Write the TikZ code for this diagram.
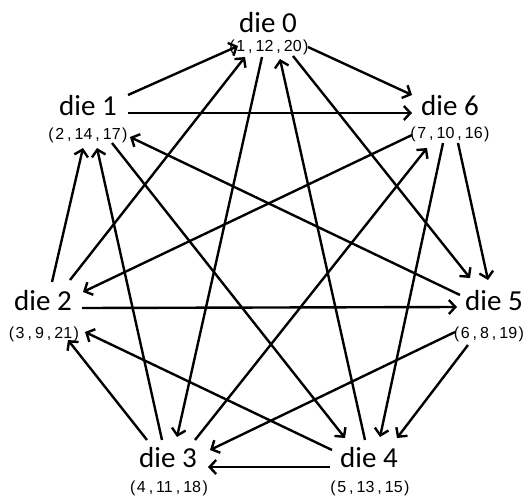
\documentclass[tikz,border=0pt]{standalone}
\usepackage{fontspec}
\setmainfont{Carlito}
\newfontfamily\tupfont{Liberation Sans}
\usetikzlibrary{arrows.meta}
\newcommand{\tupl}[3]{{\tupfont\fontsize{16}{17}\selectfont(\kern1.5pt#1\kern3pt,\kern3pt#2\kern3pt,\kern3pt#3\kern1.5pt)}}
\begin{document}
\begin{tikzpicture}[x=1pt,y=-1pt,
  dielab/.style={anchor=base,inner sep=0pt,font=\fontsize{29}{30}\selectfont},
  tuplab/.style={anchor=center,inner sep=0pt},
  arr/.style={line width=2.4pt,-{Straight Barb[length=6.5pt,width=14pt]}}]
\useasboundingbox[fill=white] (0,0) rectangle (525,498);
% die labels
\node[dielab] (d0) at (268,32) {die 0};
\node[dielab] (d1) at (88,115) {die 1};
\node[dielab] (d6) at (450,115) {die 6};
\node[dielab] (d2) at (43,310) {die 2};
\node[dielab] (d5) at (494,310) {die 5};
\node[dielab] (d3) at (168,467) {die 3};
\node[dielab] (d4) at (369,467) {die 4};
% tuples
\node[tuplab] (t0) at (269,47) {\tupl{1}{12}{20}};
\node[tuplab] (t1) at (88,135) {\tupl{2}{14}{17}};
\node[tuplab] (t6) at (450,134) {\tupl{7}{10}{16}};
\node[tuplab] (t2) at (44,334) {\tupl{3}{9}{21}};
\node[tuplab] (t5) at (489,334) {\tupl{6}{8}{19}};
\node[tuplab] (t3) at (169,488) {\tupl{4}{11}{18}};
\node[tuplab] (t4) at (370,488) {\tupl{5}{13}{15}};
% edges
\draw[arr] ([shift={(40,-20)}]d1.base) -- ([shift={(-30,14)}]d0.base);
\draw[arr] ([shift={(40,15)}]d0.base) -- ([shift={(-38,-20)}]d6.base);
\draw[arr] ([shift={(27,-30)}]d2.base) -- ([shift={(-23,25)}]d0.base);
\draw[arr] ([shift={(-6,25)}]d0.base) -- ([shift={(9,-30)}]d3.base);
\draw[arr] ([shift={(-4,-27)}]d4.base) -- ([shift={(12,27)}]d0.base);
\draw[arr] ([shift={(25,24)}]d0.base) -- ([shift={(-24,-32)}]d5.base);
\draw[arr] ([shift={(40,-2)}]d1.base) -- ([shift={(-38,-2)}]d6.base);
\draw[arr] ([shift={(-38,20)}]d6.base) -- ([shift={(40,-18)}]d2.base);
\draw[arr] ([shift={(27,-27)}]d3.base) -- ([shift={(-23,33)}]d6.base);
\draw[arr] ([shift={(-7,28)}]d6.base) -- ([shift={(11,-30)}]d4.base);
\draw[arr] ([shift={(8,28)}]d6.base) -- ([shift={(-6,-30)}]d5.base);
\draw[arr] ([shift={(-34,-15)}]d5.base) -- ([shift={(42,22)}]d1.base);
\draw[arr] ([shift={(9,-28)}]d2.base) -- ([shift={(-5,33)}]d1.base);
\draw[arr] ([shift={(-6,-27)}]d3.base) -- ([shift={(9,33)}]d1.base);
\draw[arr] ([shift={(24,28)}]d1.base) -- ([shift={(-24,-29)}]d4.base);
\draw[arr] ([shift={(39,-2)}]d2.base) -- ([shift={(-37,-3)}]d5.base);
\draw[arr] ([shift={(-37,-17)}]d4.base) -- ([shift={(42,22)}]d2.base);
\draw[arr] ([shift={(-21,-27)}]d3.base) -- ([shift={(25,30)}]d2.base);
\draw[arr] ([shift={(-39,22)}]d5.base) -- ([shift={(42,-17)}]d3.base);
\draw[arr] ([shift={(-39,0)}]d4.base) -- ([shift={(40,0)}]d3.base);
\draw[arr] ([shift={(-26,35)}]d5.base) -- ([shift={(28,-29)}]d4.base);
\end{tikzpicture}
\end{document}
